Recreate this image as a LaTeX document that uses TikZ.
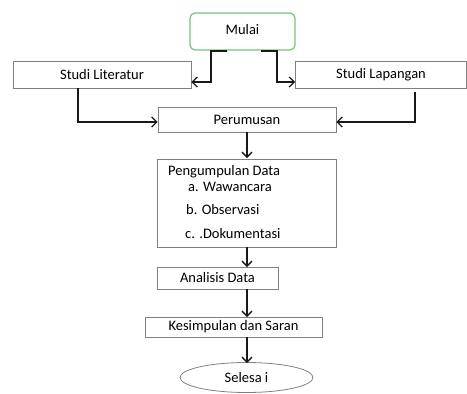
\documentclass[tikz,border=0pt]{standalone}
\usepackage{fontspec}
\setmainfont{Carlito}
\usetikzlibrary{arrows.meta,shapes.geometric}
\begin{document}
\begin{tikzpicture}[x=1pt,y=-1pt,
  txt/.style={font=\fontsize{14.5}{16}\selectfont},
  box/.style={draw=black!50,line width=0.8pt,inner sep=0pt,txt},
  arr/.style={draw=black!90,line width=1.6pt,-{Straight Barb[length=5pt,width=10pt,line width=1.3pt]}}]
\useasboundingbox (0,0) rectangle (467,394);
\node[box,draw=green!60!black!55,rounded corners=5pt,line width=1.2pt,minimum width=105pt,minimum height=37pt] (mulai) at (242.5,31.5) {\raisebox{4pt}{Mulai}};
\node[box,minimum width=178pt,minimum height=27pt] (lit) at (102,74.5) {Studi Literatur};
\node[box,minimum width=171pt,minimum height=27pt] (lap) at (381,74.5) {Studi Lapangan};
\node[box,minimum width=178pt,minimum height=25pt] (per) at (247,119.5) {Perumusan};
\node[box,minimum width=179pt,minimum height=88pt] (peng) at (246.5,203) {};
\node[txt,anchor=west,inner sep=0pt] (t0) at (168,172) {Pengumpulan Data};
\node[txt,anchor=west,inner sep=0pt] (t1) at (188,187) {a. Wawancara};
\node[txt,anchor=west,inner sep=0pt] (t2) at (186,210) {b. Observasi};
\node[txt,anchor=west,inner sep=0pt] (t3) at (185,234) {c. .Dokumentasi};
\node[box,minimum width=121pt,minimum height=22pt] (ana) at (217.5,278) {Analisis Data};
\node[box,minimum width=177pt,minimum height=20pt] (kes) at (233.5,327) {Kesimpulan dan Saran};
\node[box,ellipse,minimum width=133pt,minimum height=30pt] (sel) at (246.5,377.5) {Selesa i};
\coordinate (m1) at (227,51);
\coordinate (m2) at (261,51);
\draw[arr] (m1) -- (211,51) -- (211,82) -- (lit.east |- 0,82);
\draw[arr] (m2) -- (277,51) -- (277,82) -- (lap.west |- 0,82);
\draw[arr] (78,88) -- (78,122) -- (per.west |- 0,122);
\draw[arr] (415,92) -- (415,122) -- (per.east |- 0,122);
\draw[arr] (247,132) -- (247,158);
\draw[arr] (247,247) -- (247,267);
\draw[arr] (247,289) -- (247,317);
\draw[arr] (247,337) -- (247,363);
\end{tikzpicture}
\end{document}
